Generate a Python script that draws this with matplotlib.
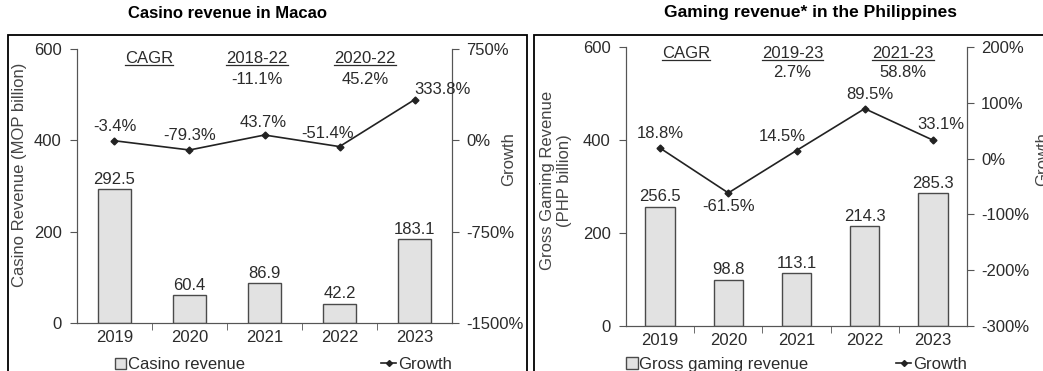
import matplotlib
matplotlib.use("Agg")
import matplotlib.pyplot as plt
from matplotlib.patches import Rectangle
from matplotlib.lines import Line2D
import numpy as np

plt.rcParams["font.family"] = ["Liberation Sans", "DejaVu Sans"]

years = ["2019", "2020", "2021", "2022", "2023"]

macao_revenue = [292.5, 60.4, 86.9, 42.2, 183.1]
macao_growth = [-3.4, -79.3, 43.7, -51.4, 333.8]

ph_revenue = [256.5, 98.8, 113.1, 214.3, 285.3]
ph_growth = [18.8, -61.5, 14.5, 89.5, 33.1]

TXT = "#2b2b2b"
AXC = "#555555"
BAR_FC = "#e2e2e2"
BAR_EC = "#4a4a4a"
LINE_C = "#222222"

fig = plt.figure(figsize=(10.43, 3.71), dpi=100)
W, H = 1043, 371


def fx(px):
    return px / W


def fy(py):
    return 1 - py / H


# panel frames
for x0, x1 in [(8, 527), (534, 1060)]:
    fig.patches.append(Rectangle((fx(x0), -0.1), fx(x1 - x0), fy(35) + 0.1,
                                 transform=fig.transFigure, fill=False,
                                 edgecolor="black", lw=1.3))

fig.text(fx(228), fy(13), "Casino revenue in Macao", ha="center", va="center",
         fontsize=12, fontweight="bold", color="black")
fig.text(fx(810), fy(13), "Gaming revenue* in the Philippines", ha="center",
         va="center", fontsize=12.5, fontweight="bold", color="black")


def panel(rect, revenue, growth, ylab, glim, gticks, bar_name, offsets,
          cagr, underlines, leg_x, leg_y):
    ax = fig.add_axes(rect)
    x = np.arange(len(years))
    bars = ax.bar(x, revenue, width=0.43, color=BAR_FC, edgecolor=BAR_EC,
                  lw=1.0, label=bar_name, zorder=2)
    ax.bar_label(bars, labels=[f"{v:.1f}" for v in revenue], padding=2,
                 fontsize=12, color=TXT)
    ax.set_xlim(-0.5, len(years) - 0.5)
    ax.set_ylim(0, 600)
    ax.set_yticks([0, 200, 400, 600])
    ax.set_xticks(x)
    ax.set_xticklabels(years)
    ax.set_xticks(np.arange(0.5, len(years) - 1, 1), minor=True)
    ax.tick_params(axis="x", which="major", length=0, pad=5, labelsize=12,
                   labelcolor=TXT)
    ax.tick_params(axis="x", which="minor", length=5, color=AXC)
    ax.tick_params(axis="y", length=5, color=AXC, labelsize=12,
                   labelcolor=TXT, pad=6)
    ax.spines["top"].set_visible(False)
    for s in ["left", "right", "bottom"]:
        ax.spines[s].set_color(AXC)
    ax.set_ylabel(ylab, fontsize=12, color="#444444")

    ax2 = ax.twinx()
    ax2.set_ylim(*glim)
    ax2.set_yticks(gticks)
    ax2.set_yticklabels([f"{t}%" for t in gticks])
    ax2.tick_params(axis="y", length=5, color=AXC, labelsize=12,
                    labelcolor=TXT, pad=5)
    ax2.spines["top"].set_visible(False)
    for s in ["left", "right", "bottom"]:
        ax2.spines[s].set_color(AXC)
    ax2.plot(x, growth, color=LINE_C, lw=1.2, marker="D", markersize=3.5,
             label="Growth")
    for xi, g, off in zip(x, growth, offsets):
        ax2.annotate(f"{g:.1f}%", (xi, g), xytext=off,
                     textcoords="offset pixels", ha="center", va="center",
                     fontsize=12, color=TXT)
    ax2.set_ylabel("Growth", fontsize=12, color="#444444")

    for xc, yc, s in cagr:
        t = ax.text(xc, yc, s, transform=ax.get_xaxis_transform(),
                    ha="center", va="center", fontsize=12, color=TXT)
        if s in underlines:
            underlines[s] = t

    leg1 = ax.legend(handles=[bars], loc="upper left",
                     bbox_to_anchor=(leg_x[0], leg_y), frameon=False,
                     fontsize=12, handlelength=0.7, handleheight=0.7,
                     handletextpad=0.1, borderaxespad=0, borderpad=0,
                     labelcolor=TXT)
    ax.add_artist(leg1)
    ax.legend(handles=[Line2D([], [], color=LINE_C, marker="D", markersize=3,
                              lw=1.2)], labels=["Growth"],
              loc="upper right", bbox_to_anchor=(leg_x[1], leg_y),
              frameon=False, fontsize=12, handlelength=0.9,
              handletextpad=0.1, borderaxespad=0, borderpad=0,
              labelcolor=TXT)
    return ax, ax2


ul_left = {"CAGR": None, "2018-22": None, "2020-22": None}
axL, axL2 = panel(
    [fx(77), fy(323), fx(452 - 77), (323 - 49) / H],
    macao_revenue, macao_growth, "Casino Revenue (MOP billion)",
    (-1500, 750), [-1500, -750, 0, 750], "Casino revenue",
    [(0, 14), (0, 14), (-1, 13), (-12, 13), (28, 10)],
    [(0.46, 0.967, "CAGR"), (1.9, 0.967, "2018-22"), (1.9, 0.89, "-11.1%"),
     (3.34, 0.967, "2020-22"), (3.34, 0.89, "45.2%")],
    ul_left, (0.1, 1.0), -0.125)
axL.yaxis.set_label_coords(-0.134, 0.54)
axL2.yaxis.set_label_coords(1.132, 0.6)

ul_right = {"CAGR": None, "2019-23": None, "2021-23": None}
axR, axR2 = panel(
    [fx(626), fy(326), fx(967 - 626), (326 - 47) / H],
    ph_revenue, ph_growth, "Gross Gaming Revenue\n(PHP billion)",
    (-300, 200), [-300, -200, -100, 0, 100, 200], "Gross gaming revenue",
    [(0, 15), (0, -14), (-14, 14), (5, 14), (8, 16)],
    [(0.38, 0.975, "CAGR"), (1.94, 0.975, "2019-23"), (1.94, 0.907, "2.7%"),
     (3.56, 0.975, "2021-23"), (3.56, 0.907, "58.8%")],
    ul_right, (0.0, 1.0), -0.11)
axR.yaxis.set_label_coords(-0.158, 0.52)
axR2.yaxis.set_label_coords(1.2, 0.6)

# underline the CAGR headers
fig.canvas.draw()
renderer = fig.canvas.get_renderer()
for d in (ul_left, ul_right):
    for t in d.values():
        bb = t.get_window_extent(renderer)
        y = bb.y0 + 1
        fig.add_artist(Line2D([bb.x0 / W, bb.x1 / W], [y / H, y / H],
                              transform=fig.transFigure, color=TXT, lw=0.9))

fig.savefig("out.png", dpi=100)
